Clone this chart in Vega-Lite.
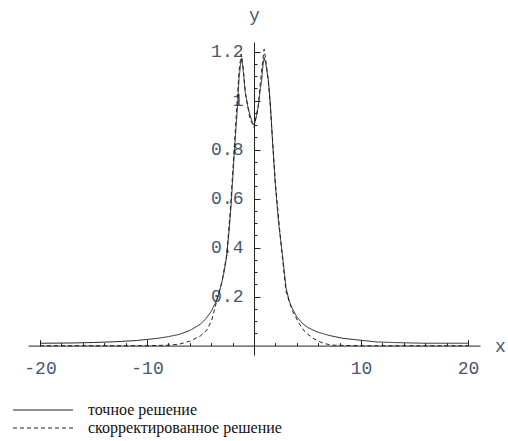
{
  "$schema": "https://vega.github.io/schema/vega-lite/v6.json",
  "autosize": {"type": "none"},
  "width": 452,
  "height": 313,
  "padding": {"left": 28, "top": 42, "right": 28, "bottom": 86},
  "background": "white",
  "config": {"view": {"stroke": null}},
  "data": {"values": [
    {"x": -20, "y": 0.010, "s": "точное решение"},
    {"x": -17, "y": 0.011, "s": "точное решение"},
    {"x": -15, "y": 0.013, "s": "точное решение"},
    {"x": -13, "y": 0.016, "s": "точное решение"},
    {"x": -11, "y": 0.021, "s": "точное решение"},
    {"x": -9, "y": 0.030, "s": "точное решение"},
    {"x": -8, "y": 0.037, "s": "точное решение"},
    {"x": -7, "y": 0.046, "s": "точное решение"},
    {"x": -6, "y": 0.062, "s": "точное решение"},
    {"x": -5, "y": 0.088, "s": "точное решение"},
    {"x": -4.5, "y": 0.11, "s": "точное решение"},
    {"x": -4, "y": 0.14, "s": "точное решение"},
    {"x": -3.6, "y": 0.175, "s": "точное решение"},
    {"x": -3.3, "y": 0.21, "s": "точное решение"},
    {"x": -3.0, "y": 0.26, "s": "точное решение"},
    {"x": -2.8, "y": 0.30, "s": "точное решение"},
    {"x": -2.55, "y": 0.365, "s": "точное решение"},
    {"x": -2.35, "y": 0.46, "s": "точное решение"},
    {"x": -2.15, "y": 0.567, "s": "точное решение"},
    {"x": -2.0, "y": 0.675, "s": "точное решение"},
    {"x": -1.84, "y": 0.785, "s": "точное решение"},
    {"x": -1.68, "y": 0.89, "s": "точное решение"},
    {"x": -1.52, "y": 0.99, "s": "точное решение"},
    {"x": -1.4, "y": 1.09, "s": "точное решение"},
    {"x": -1.25, "y": 1.15, "s": "точное решение"},
    {"x": -1.15, "y": 1.173, "s": "точное решение"},
    {"x": -1.0, "y": 1.12, "s": "точное решение"},
    {"x": -0.84, "y": 1.04, "s": "точное решение"},
    {"x": -0.6, "y": 0.98, "s": "точное решение"},
    {"x": -0.37, "y": 0.94, "s": "точное решение"},
    {"x": -0.15, "y": 0.91, "s": "точное решение"},
    {"x": 0, "y": 0.90, "s": "точное решение"},
    {"x": 0.2, "y": 0.93, "s": "точное решение"},
    {"x": 0.4, "y": 0.976, "s": "точное решение"},
    {"x": 0.6, "y": 1.05, "s": "точное решение"},
    {"x": 0.72, "y": 1.085, "s": "точное решение"},
    {"x": 0.85, "y": 1.15, "s": "точное решение"},
    {"x": 0.96, "y": 1.175, "s": "точное решение"},
    {"x": 1.1, "y": 1.15, "s": "точное решение"},
    {"x": 1.34, "y": 1.085, "s": "точное решение"},
    {"x": 1.52, "y": 0.99, "s": "точное решение"},
    {"x": 1.75, "y": 0.82, "s": "точное решение"},
    {"x": 1.99, "y": 0.66, "s": "точное решение"},
    {"x": 2.3, "y": 0.50, "s": "точное решение"},
    {"x": 2.68, "y": 0.363, "s": "точное решение"},
    {"x": 3.0, "y": 0.235, "s": "точное решение"},
    {"x": 3.3, "y": 0.18, "s": "точное решение"},
    {"x": 3.6, "y": 0.15, "s": "точное решение"},
    {"x": 4.0, "y": 0.118, "s": "точное решение"},
    {"x": 4.5, "y": 0.092, "s": "точное решение"},
    {"x": 5, "y": 0.075, "s": "точное решение"},
    {"x": 5.85, "y": 0.057, "s": "точное решение"},
    {"x": 7, "y": 0.042, "s": "точное решение"},
    {"x": 8.3, "y": 0.03, "s": "точное решение"},
    {"x": 10, "y": 0.022, "s": "точное решение"},
    {"x": 11.5, "y": 0.015, "s": "точное решение"},
    {"x": 13, "y": 0.013, "s": "точное решение"},
    {"x": 15.8, "y": 0.010, "s": "точное решение"},
    {"x": 20, "y": 0.010, "s": "точное решение"},
    {"x": -20, "y": 0.0, "s": "скорректированное решение"},
    {"x": -10, "y": 0.0, "s": "скорректированное решение"},
    {"x": -8, "y": 0.002, "s": "скорректированное решение"},
    {"x": -7, "y": 0.006, "s": "скорректированное решение"},
    {"x": -6, "y": 0.018, "s": "скорректированное решение"},
    {"x": -5, "y": 0.04, "s": "скорректированное решение"},
    {"x": -4.4, "y": 0.064, "s": "скорректированное решение"},
    {"x": -3.95, "y": 0.104, "s": "скорректированное решение"},
    {"x": -3.5, "y": 0.18, "s": "скорректированное решение"},
    {"x": -3.0, "y": 0.26, "s": "скорректированное решение"},
    {"x": -2.55, "y": 0.37, "s": "скорректированное решение"},
    {"x": -2.2, "y": 0.56, "s": "скорректированное решение"},
    {"x": -1.9, "y": 0.77, "s": "скорректированное решение"},
    {"x": -1.6, "y": 0.98, "s": "скорректированное решение"},
    {"x": -1.4, "y": 1.12, "s": "скорректированное решение"},
    {"x": -1.2, "y": 1.19, "s": "скорректированное решение"},
    {"x": -1.0, "y": 1.13, "s": "скорректированное решение"},
    {"x": -0.8, "y": 1.03, "s": "скорректированное решение"},
    {"x": -0.4, "y": 0.93, "s": "скорректированное решение"},
    {"x": 0, "y": 0.89, "s": "скорректированное решение"},
    {"x": 0.4, "y": 0.98, "s": "скорректированное решение"},
    {"x": 0.7, "y": 1.12, "s": "скорректированное решение"},
    {"x": 0.95, "y": 1.21, "s": "скорректированное решение"},
    {"x": 1.15, "y": 1.15, "s": "скорректированное решение"},
    {"x": 1.4, "y": 1.05, "s": "скорректированное решение"},
    {"x": 1.6, "y": 0.93, "s": "скорректированное решение"},
    {"x": 2.0, "y": 0.66, "s": "скорректированное решение"},
    {"x": 2.6, "y": 0.38, "s": "скорректированное решение"},
    {"x": 3.0, "y": 0.22, "s": "скорректированное решение"},
    {"x": 3.6, "y": 0.14, "s": "скорректированное решение"},
    {"x": 4.3, "y": 0.085, "s": "скорректированное решение"},
    {"x": 4.75, "y": 0.057, "s": "скорректированное решение"},
    {"x": 5.5, "y": 0.03, "s": "скорректированное решение"},
    {"x": 6.45, "y": 0.01, "s": "скорректированное решение"},
    {"x": 7.3, "y": 0.002, "s": "скорректированное решение"},
    {"x": 10, "y": 0.0, "s": "скорректированное решение"},
    {"x": 20, "y": 0.0, "s": "скорректированное решение"}
  ]},
  "mark": {"type": "line", "color": "#222222", "strokeWidth": 1},
  "encoding": {
    "x": {
      "field": "x", "type": "quantitative",
      "scale": {"domain": [-21.12, 21.12], "nice": false, "zero": false},
      "axis": {
        "orient": "bottom",
        "offset": -9.4,
        "values": [-20, -18, -16, -14, -12, -10, -8, -6, -4, -2, 2, 4, 6, 8, 10, 12, 14, 16, 18, 20],
        "labelExpr": "abs(datum.value) % 10 === 0 ? datum.value + '' : ''",
        "tickSize": {"condition": {"test": "abs(datum.value) % 10 === 0", "value": -6}, "value": -3},
        "tickColor": "#222222",
        "domainColor": "#222222",
        "domainWidth": 1,
        "tickWidth": 1,
        "grid": false,
        "labelFont": "Liberation Mono",
        "labelFontSize": 18,
        "labelColor": "#485670",
        "labelPadding": 20,
        "labelFlush": false,
        "labelOverlap": false,
        "title": "x",
        "titleFont": "Liberation Mono",
        "titleFontSize": 18,
        "titleFontWeight": "normal",
        "titleColor": "#485670",
        "titleX": 472,
        "titleY": 1,
        "titleAlign": "center",
        "titleBaseline": "middle"
      }
    },
    "y": {
      "field": "y", "type": "quantitative",
      "scale": {"domain": [-0.038, 1.239], "nice": false, "zero": false},
      "axis": {
        "orient": "left",
        "offset": -226,
        "values": [0.05, 0.1, 0.15, 0.2, 0.25, 0.3, 0.35, 0.4, 0.45, 0.5, 0.55, 0.6, 0.65, 0.7, 0.75, 0.8, 0.85, 0.9, 0.95, 1, 1.05, 1.1, 1.15, 1.2],
        "labelExpr": "abs(datum.value * 5 - round(datum.value * 5)) < 0.000001 ? datum.value + '' : ''",
        "tickSize": {"condition": {"test": "abs(datum.value * 5 - round(datum.value * 5)) < 0.000001", "value": -6}, "value": -3},
        "tickColor": "#222222",
        "domainColor": "#222222",
        "domainWidth": 1,
        "tickWidth": 1,
        "grid": false,
        "labelFont": "Liberation Mono",
        "labelFontSize": 18,
        "labelColor": "#485670",
        "labelPadding": 17,
        "labelBaseline": "middle",
        "labelFlush": false,
        "labelOverlap": false,
        "title": "y",
        "titleFont": "Liberation Mono",
        "titleFontSize": 18,
        "titleFontWeight": "normal",
        "titleColor": "#485670",
        "titleAngle": 0,
        "titleX": 0,
        "titleY": -27,
        "titleAlign": "center",
        "titleBaseline": "middle"
      }
    },
    "strokeDash": {
      "field": "s", "type": "nominal",
      "scale": {"domain": ["точное решение", "скорректированное решение"], "range": [[1, 0], [4, 3]]},
      "legend": {
        "orient": "none",
        "legendX": 6,
        "legendY": 359,
        "title": null,
        "symbolType": "M-3.75,0H3.75",
        "symbolSize": 256,
        "symbolStrokeColor": "#222222",
        "symbolFillColor": "transparent",
        "symbolStrokeWidth": 1.2,
        "labelFont": "Liberation Serif",
        "labelFontSize": 16,
        "labelColor": "#111111",
        "labelOffset": 36,
        "labelLimit": 400,
        "rowPadding": 1,
        "padding": 0
      }
    }
  }
}
